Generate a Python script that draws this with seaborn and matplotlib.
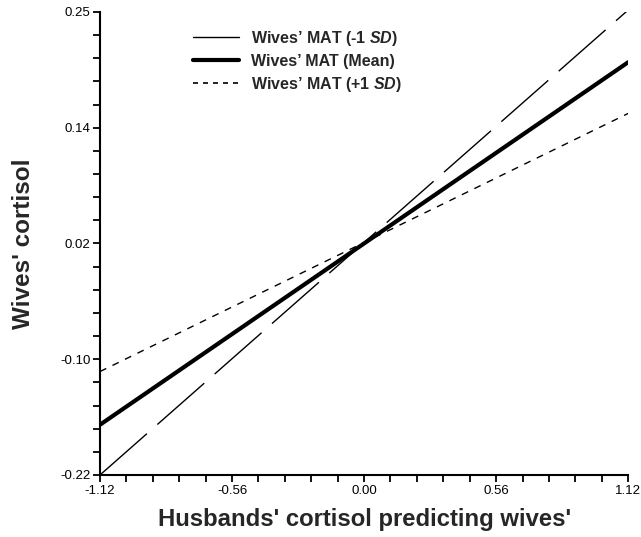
import numpy as np
import pandas as pd
import matplotlib
matplotlib.use("Agg")
import matplotlib.pyplot as plt
import seaborn as sns
from matplotlib.ticker import AutoMinorLocator
from matplotlib.lines import Line2D

# Data (line endpoints)
x_vals = [-1.12, 1.12]
minus_sd = [-0.220, 0.252]
mean_vals = [-0.169, 0.199]
plus_sd = [-0.115, 0.147]
series_names = ["Wives\u2019 MAT (-1 $\\mathit{SD}$)", "Wives\u2019 MAT (Mean)", "Wives\u2019 MAT (+1 $\\mathit{SD}$)"]
x_ticks = [-1.12, -0.56, 0.00, 0.56, 1.12]
x_ticklabels = ["-1.12", "-0.56", "0.00", "0.56", "1.12"]
y_ticks = [-0.22, -0.1025, 0.015, 0.1325, 0.25]
y_ticklabels = ["-0.22", "-0.10", "0.02", "0.14", "0.25"]

df = pd.DataFrame({
    "x": x_vals * 3,
    "y": minus_sd + mean_vals + plus_sd,
    "series": [series_names[0]] * 2 + [series_names[1]] * 2 + [series_names[2]] * 2,
})

sns.set_style("ticks")
plt.rcParams["font.family"] = ["Liberation Sans", "DejaVu Sans"]
plt.rcParams["mathtext.fontset"] = "custom"
plt.rcParams["mathtext.it"] = "Liberation Sans:italic:bold"
plt.rcParams["mathtext.rm"] = "Liberation Sans:bold"

fig = plt.figure(figsize=(6.41, 5.37), dpi=100)
ax = fig.add_axes([0.156, 0.1155, 0.824, 0.8622])

styles = {
    series_names[0]: dict(lw=1.0, dashes=(45, 10)),
    series_names[1]: dict(lw=3.0, dashes=None),
    series_names[2]: dict(lw=1.0, dashes=(5, 5)),
}
for name in series_names:
    sub = df[df["series"] == name]
    st = styles[name]
    sns.lineplot(data=sub, x="x", y="y", ax=ax, color="black", lw=st["lw"], legend=False)
    l = ax.get_lines()[-1]
    if st["dashes"]:
        l.set_dashes(st["dashes"])

handles = [
    Line2D([], [], color="black", lw=1.0),
    Line2D([], [], color="black", lw=3.0),
    Line2D([], [], color="black", lw=1.2, dashes=(3, 3)),
]
ax.legend(handles, series_names, loc="upper left", bbox_to_anchor=(0.148, 0.995),
          frameon=False, handlelength=2.9, handletextpad=0.75, labelspacing=0.38,
          prop=dict(weight="bold", size=11.5))

ax.set_xlim(-1.12, 1.12)
ax.set_ylim(-0.22, 0.25)
ax.set_xticks(x_ticks)
ax.set_xticklabels(x_ticklabels)
ax.set_yticks(y_ticks)
ax.set_yticklabels(y_ticklabels)
ax.xaxis.set_minor_locator(AutoMinorLocator(5))
ax.yaxis.set_minor_locator(AutoMinorLocator(5))
ax.tick_params(which="both", direction="out", length=5, width=1.3, colors="black", labelsize=9.5, pad=2)
for s in ["top", "right"]:
    ax.spines[s].set_visible(False)
for s in ["left", "bottom"]:
    ax.spines[s].set_linewidth(1.5)
    ax.spines[s].set_color("black")

ax.set_xlabel("Husbands' cortisol predicting wives'", fontsize=17.2, fontweight="bold", labelpad=8)
ax.set_ylabel("Wives' cortisol", fontsize=17.5, fontweight="bold", labelpad=18)

fig.savefig("out.png", dpi=100)
